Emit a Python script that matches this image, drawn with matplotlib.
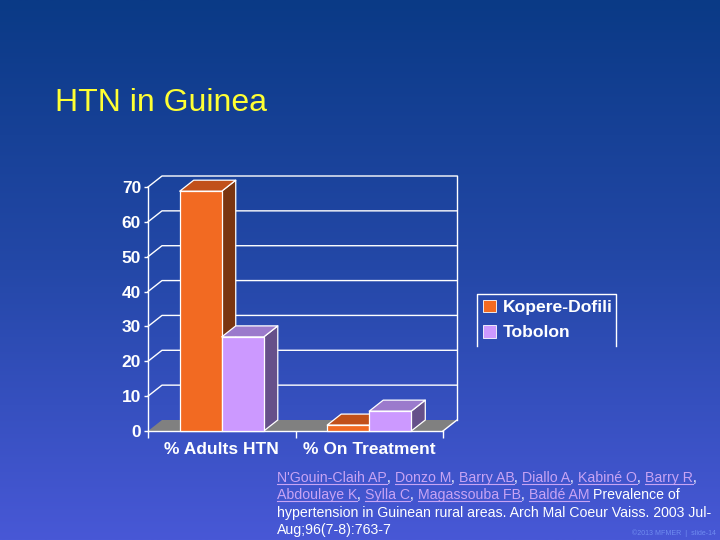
import matplotlib
matplotlib.use("Agg")
import matplotlib.pyplot as plt
import numpy as np
from matplotlib.patches import Polygon, Rectangle, Patch
from matplotlib.colors import LinearSegmentedColormap

plt.rcParams['font.family'] = ['Liberation Sans', 'DejaVu Sans']

# ---------------- data ----------------
categories = ["% Adults HTN", "% On Treatment"]
series_names = ["Kopere-Dofili", "Tobolon"]
kopere = [68.8, 1.7]
tobolon = [27.0, 5.7]
yticks = [0, 10, 20, 30, 40, 50, 60, 70]
title = "HTN in Guinea"
cite_lines = [
    [("N'Gouin-Claih AP", 1), (", ", 0), ("Donzo M", 1), (", ", 0), ("Barry AB", 1), (", ", 0),
     ("Diallo A", 1), (", ", 0), ("Kabiné O", 1), (", ", 0), ("Barry R", 1), (",", 0)],
    [("Abdoulaye K", 1), (", ", 0), ("Sylla C", 1), (", ", 0), ("Magassouba FB", 1), (", ", 0),
     ("Baldé AM", 1), (" Prevalence of", 0)],
    [("hypertension in Guinean rural areas. Arch Mal Coeur Vaiss. 2003 Jul-", 0)],
    [("Aug;96(7-8):763-7", 0)],
]
footer = "©2013 MFMER  |  slide-14"

# ---------------- style ----------------
W, H = 720, 540
fig = plt.figure(figsize=(7.2, 5.4), dpi=100)

# background gradient
bg = fig.add_axes([0, 0, 1, 1], zorder=-10)
bg.set_axis_off()
cmap = LinearSegmentedColormap.from_list("bg", ["#0a3a86", "#2448a8", "#4858d6"])
grad = np.linspace(0, 1, 256).reshape(-1, 1)
bg.imshow(grad, aspect="auto", cmap=cmap, extent=[0, 1, 0, 1], origin="upper")
bg.set_xlim(0, 1); bg.set_ylim(0, 1)

fig.text(55 / W, 1 - 103 / H, title, color="#ffff33", fontsize=23, va="center", ha="left")

# chart axes (front plane)
L, R, T, B = 148, 443, 187, 431
ax = fig.add_axes([L / W, 1 - B / H, (R - L) / W, (B - T) / H])
ax.set_facecolor("none")
ax.set_xlim(0, 2)
ax.set_ylim(0, 70)
for s in ["top", "right"]:
    ax.spines[s].set_visible(False)
for s in ["left", "bottom"]:
    ax.spines[s].set_color("white")
    ax.spines[s].set_linewidth(1.0)

# depth offset in data units
dxp, dyp = 14, 11
DX = 2 * dxp / (R - L)
DY = 70 * dyp / (B - T)

white = "white"
# floor
ax.add_patch(Polygon([(0, 0), (2, 0), (2 + DX, DY), (DX, DY)], closed=True,
                     facecolor="#808080", edgecolor="none", clip_on=False, zorder=1))
ax.plot([2, 2 + DX], [0, DY], color=white, lw=1, clip_on=False, zorder=1.5)
# back wall grid
for v in yticks[1:]:
    ax.plot([0, DX, 2 + DX], [v, v + DY, v + DY], color=white, lw=1, clip_on=False, zorder=1.2)
ax.plot([2 + DX, 2 + DX], [DY, 70 + DY], color=white, lw=1, clip_on=False, zorder=1.2)

# bars
bw = 0.285
cols = {
    "Kopere-Dofili": ("#f26a22", "#c1501a", "#7a3510"),
    "Tobolon": ("#cc99ff", "#9b7acc", "#66508a"),
}
centers = [0.5, 1.5]
z = 3
for ci, c in enumerate(centers):
    for si, (name, vals) in enumerate(zip(series_names, [kopere, tobolon])):
        front, top, side = cols[name]
        x0 = c - bw + si * bw
        x1 = x0 + bw
        h = vals[ci]
        kw = dict(edgecolor=white, linewidth=0.9, clip_on=False, zorder=z, joinstyle="round")
        ax.add_patch(Polygon([(x1, 0), (x1 + DX, DY), (x1 + DX, h + DY), (x1, h)], closed=True,
                             facecolor=side, **kw))
        ax.add_patch(Polygon([(x0, h), (x1, h), (x1 + DX, h + DY), (x0 + DX, h + DY)], closed=True,
                             facecolor=top, **kw))
        ax.add_patch(Rectangle((x0, 0), bw, h, facecolor=front, **kw))
        z += 1

# ticks
ax.set_yticks(yticks)
ax.set_yticklabels([str(v) for v in yticks])
ax.tick_params(axis="y", colors=white, length=3, width=1, pad=2, labelsize=12.5)
for lab in ax.get_yticklabels():
    lab.set_fontweight("bold")
ax.set_xticks([0, 1, 2], minor=True)
ax.set_xticks(centers)
ax.set_xticklabels(categories)
ax.tick_params(axis="x", which="major", length=0, pad=8, colors=white, labelsize=12.5)
ax.tick_params(axis="x", which="minor", length=5, width=1, color=white)
for lab in ax.get_xticklabels():
    lab.set_fontweight("bold")

# legend (box open at the bottom, as in the reference)
handles = [Patch(facecolor=cols[n][0], edgecolor="white", linewidth=0.6, label=n) for n in series_names]
leg = fig.legend(handles=handles, loc="upper left", bbox_to_anchor=(477 / W, 1 - 294 / H),
                 frameon=False, fontsize=12.6, handlelength=0.75, handleheight=0.75,
                 handletextpad=0.4, borderpad=0.32, labelspacing=0.55, borderaxespad=0)
for t in leg.get_texts():
    t.set_color("white")
    t.set_fontweight("bold")
lx0, lx1, ly0, ly1 = 477, 616, 294, 346
fig.add_artist(plt.Line2D([lx0 / W, lx0 / W, lx1 / W, lx1 / W],
                          [1 - ly1 / H, 1 - ly0 / H, 1 - ly0 / H, 1 - ly1 / H],
                          color="white", lw=1.0, transform=fig.transFigure))

# citation
fig.canvas.draw()
renderer = fig.canvas.get_renderer()
fs = 10.2
link_col = "#c8a4f4"

def tw(s):
    t = fig.text(0, 0, s, fontsize=fs)
    w = t.get_window_extent(renderer).width
    t.remove()
    return w

sp = tw("a a") - tw("aa")

def width(s):
    st = s.rstrip(" ")
    n = len(s) - len(st)
    lead = len(st) - len(st.lstrip(" "))
    core = st.lstrip(" ")
    return (tw(core) if core else 0) + (n + lead) * sp

x0p = 277
y0p = 482
lh = 17.4
for li, line in enumerate(cite_lines):
    xp = x0p
    yp = y0p + li * lh
    for txt, is_link in line:
        lead = len(txt) - len(txt.lstrip(" "))
        core = txt.lstrip(" ")
        xs = xp + lead * sp
        col = link_col if is_link else "white"
        fig.text(xs / W, 1 - yp / H, core, fontsize=fs, color=col, va="baseline", ha="left")
        w = width(txt)
        if is_link:
            fig.add_artist(plt.Line2D([xs / W, (xs + tw(core)) / W], [1 - (yp + 2) / H] * 2,
                                      color=link_col, lw=0.8, transform=fig.transFigure))
        xp += w

fig.text(632 / W, 1 - 533 / H, footer, fontsize=5, color="#6f8cf0", va="center", ha="left")

fig.savefig("out.png", dpi=100)
